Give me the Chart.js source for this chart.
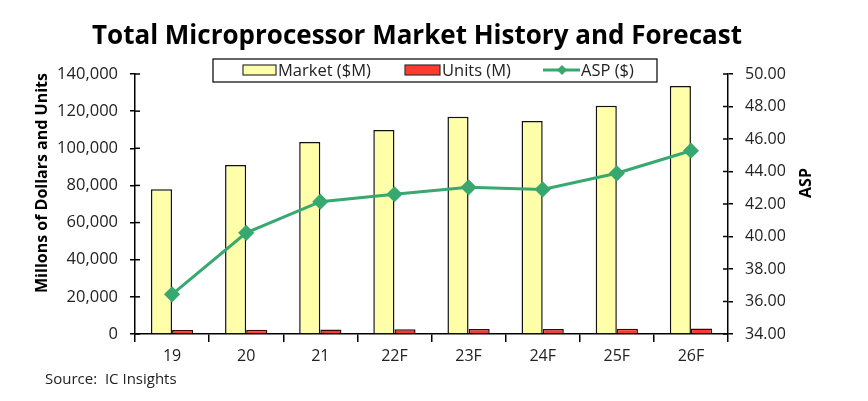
<!DOCTYPE html>
<html>
<head>
<meta charset="utf-8">
<script src="https://cdn.jsdelivr.net/npm/chart.js@4"></script>
<style>
  html, body { margin: 0; padding: 0; background: #fff; }
  #wrap { width: 868px; height: 401px; }
</style>
</head>
<body>
<div id="wrap"><canvas id="mpuChart"></canvas></div>
<script>
// Data
const years = ['19', '20', '21', '22F', '23F', '24F', '25F', '26F'];
const market = [78000, 91000, 103400, 109800, 117000, 114700, 122900, 133500];
const units = [2140, 2260, 2450, 2580, 2720, 2670, 2800, 2950];
const asp = [36.44, 40.23, 42.14, 42.60, 43.03, 42.90, 43.89, 45.28];
const leftTicks = [0, 20000, 40000, 60000, 80000, 100000, 120000, 140000];
const rightTicks = [34, 36, 38, 40, 42, 44, 46, 48, 50];

const FONT = '"Open Sans", "Liberation Sans", sans-serif';
const YELLOW = '#FFFFAA';
const RED = '#FF3B2F';
const GREEN = '#36A870';

// Title, axis titles, source note and boxed legend
const extras = {
    id: 'extras',
    afterDraw(chart) {
        const c = chart.ctx;
        const area = chart.chartArea;
        c.save();
        c.fillStyle = '#000';
        c.textAlign = 'center';
        c.textBaseline = 'middle';
        c.font = 'bold 26px ' + FONT;
        c.fillText('Total Microprocessor Market History and Forecast', 417, 37);

        c.font = 'bold 16px ' + FONT;
        c.save();
        c.translate(42, 183);
        c.rotate(-Math.PI / 2);
        c.fillText('Millons of Dollars and Units', 0, 0);
        c.restore();
        c.save();
        c.translate(806, 183);
        c.rotate(-Math.PI / 2);
        c.fillText('ASP', 0, 0);
        c.restore();

        c.textAlign = 'left';
        c.font = '15px ' + FONT;
        c.fillStyle = '#222';
        c.fillText('Source:  IC Insights', 45, 380);

        // legend
        c.fillStyle = '#fff';
        c.fillRect(213, 59, 444, 23);
        c.strokeStyle = '#000';
        c.lineWidth = 1.2;
        c.strokeRect(213, 59, 444, 23);
        c.font = '16.5px ' + FONT;
        c.fillStyle = YELLOW;
        c.fillRect(243, 65, 33, 10);
        c.strokeStyle = '#333';
        c.strokeRect(243, 65, 33, 10);
        c.fillStyle = RED;
        c.fillRect(405, 65, 35, 10);
        c.strokeRect(405, 65, 35, 10);
        c.strokeStyle = GREEN;
        c.lineWidth = 3;
        c.beginPath();
        c.moveTo(543, 70);
        c.lineTo(580, 70);
        c.stroke();
        c.fillStyle = GREEN;
        c.beginPath();
        c.moveTo(562, 65); c.lineTo(567, 70); c.lineTo(562, 75); c.lineTo(557, 70);
        c.closePath();
        c.fill();
        c.fillStyle = '#222';
        c.fillText('Market ($M)', 278, 71);
        c.fillText('Units (M)', 442, 71);
        c.fillText('ASP ($)', 581, 71);

        // inner halves of the axis tick marks
        c.strokeStyle = '#000';
        c.lineWidth = 1.5;
        const yL = chart.scales.y, yR = chart.scales.y1;
        leftTicks.forEach(v => {
            const p = yL.getPixelForValue(v);
            c.beginPath(); c.moveTo(area.left, p); c.lineTo(area.left + 5, p); c.stroke();
        });
        rightTicks.forEach(v => {
            const p = yR.getPixelForValue(v);
            c.beginPath(); c.moveTo(area.right - 5, p); c.lineTo(area.right, p); c.stroke();
        });
        c.restore();
    }
};

const ctx = document.getElementById('mpuChart').getContext('2d');
new Chart(ctx, {
    data: {
        labels: years,
        datasets: [
            {
                type: 'line',
                label: 'ASP ($)',
                data: asp,
                yAxisID: 'y1',
                borderColor: GREEN,
                backgroundColor: GREEN,
                borderWidth: 3,
                pointStyle: 'rectRot',
                pointRadius: 6,
                pointHoverRadius: 6,
                tension: 0,
                order: 0
            },
            {
                type: 'bar',
                label: 'Market ($M)',
                data: market,
                yAxisID: 'y',
                backgroundColor: YELLOW,
                borderColor: '#111',
                borderWidth: 1.5,
                categoryPercentage: 0.57,
                barPercentage: 1.0,
                order: 1
            },
            {
                type: 'bar',
                label: 'Units (M)',
                data: units,
                yAxisID: 'y',
                backgroundColor: RED,
                borderColor: '#3a0a0a',
                borderWidth: 1.5,
                categoryPercentage: 0.57,
                barPercentage: 1.0,
                order: 1
            }
        ]
    },
    options: {
        responsive: true,
        maintainAspectRatio: false,
        animation: false,
        layout: { padding: { top: 74, left: 0, right: 0, bottom: 0 } },
        plugins: {
            legend: { display: false },
            tooltip: { enabled: false }
        },
        scales: {
            x: {
                grid: { display: true, drawOnChartArea: false, offset: true, tickLength: 8, color: '#000', lineWidth: 1.5 },
                border: { display: true, color: '#000', width: 1.5 },
                ticks: { color: '#222', font: { family: FONT, size: 16 }, padding: 5 },
                afterFit(s) { s.height = 67; }
            },
            y: {
                position: 'left',
                min: 0,
                max: 140000,
                afterBuildTicks(s) { s.ticks = leftTicks.map(v => ({ value: v })); },
                grid: { display: true, drawOnChartArea: false, tickLength: 5, color: '#000', lineWidth: 1.5 },
                border: { display: true, color: '#000', width: 1.5 },
                ticks: {
                    color: '#222',
                    font: { family: FONT, size: 16.5 },
                    padding: 12,
                    callback: v => v.toLocaleString('en-US')
                },
                afterFit(s) { s.width = 135; }
            },
            y1: {
                position: 'right',
                min: 34,
                max: 50,
                afterBuildTicks(s) { s.ticks = rightTicks.map(v => ({ value: v })); },
                grid: { display: true, drawOnChartArea: false, tickLength: 5, color: '#000', lineWidth: 1.5 },
                border: { display: true, color: '#000', width: 1.5 },
                ticks: {
                    color: '#222',
                    font: { family: FONT, size: 16 },
                    padding: 12,
                    callback: v => v.toFixed(2)
                },
                afterFit(s) { s.width = 140; }
            }
        }
    },
    plugins: [extras]
});
</script>
</body>
</html>
